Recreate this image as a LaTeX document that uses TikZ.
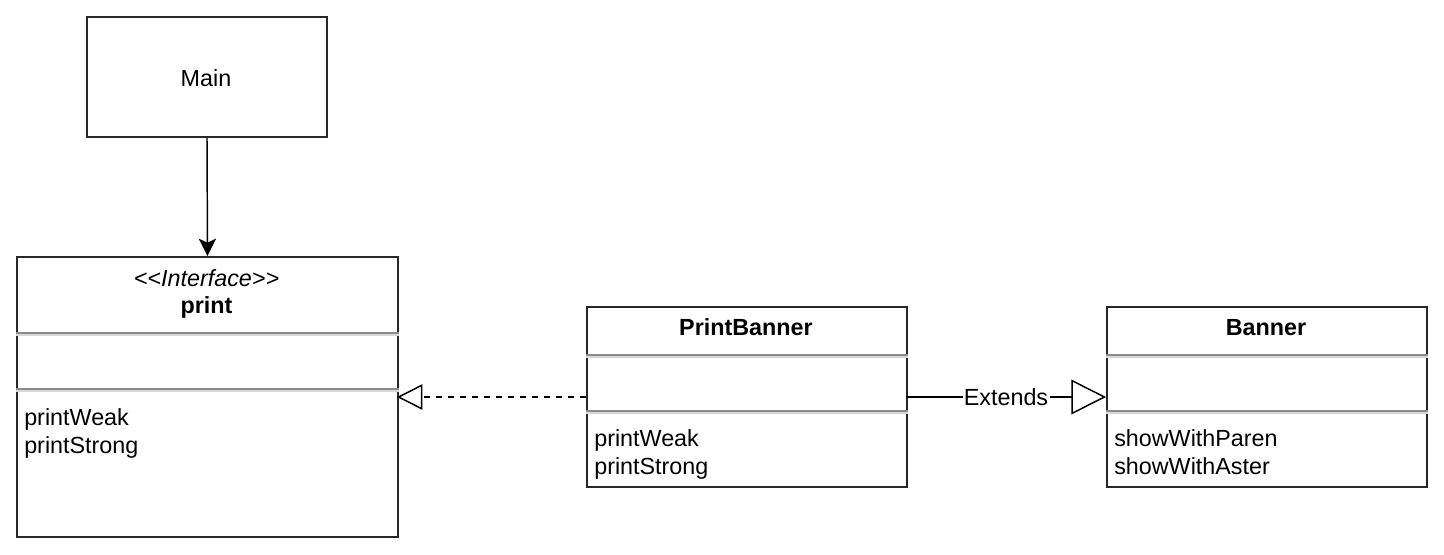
\documentclass[tikz,border=0pt]{standalone}
\usepackage{fontspec}
\setmainfont{Liberation Sans}
\usetikzlibrary{arrows.meta}
\definecolor{bd}{RGB}{40,40,40}
\definecolor{sep}{RGB}{140,140,140}
\definecolor{sepl}{RGB}{215,215,215}
\begin{document}
\begin{tikzpicture}[x=0.75pt,y=-0.75pt,
  box/.style={draw=bd,line width=1.5pt,fill=white,inner sep=0,anchor=north west,rectangle},
  txt/.style={inner sep=0,font=\fontsize{17.5}{21}\selectfont},
  ttl/.style={txt,anchor=base},
  meth/.style={txt,anchor=base west},
  sepline/.style={draw=sep,line width=1.2pt},
  seplight/.style={draw=sepl,line width=1pt},
  conn/.style={draw=black,line width=1.1pt}]
\useasboundingbox (0,0) rectangle (1444,554);
% boxes
\node[box,minimum width=240*0.75pt,minimum height=120*0.75pt] (main) at (86,16) {};
\node[ttl] (maint) at (206,86) {Main};
\node[box,minimum width=381*0.75pt,minimum height=280*0.75pt] (print) at (16,256) {};
\node[box,minimum width=320*0.75pt,minimum height=180*0.75pt] (pb) at (586,306) {};
\node[box,minimum width=320*0.75pt,minimum height=180*0.75pt] (banner) at (1106,306) {};
% separators
\foreach \xa/\xb/\y in {16/399/333, 16/399/389, 586/908/355, 586/908/411, 1106/1428/355, 1106/1428/411}{
  \draw[sepline] (\xa,\y) -- (\xb,\y);
  \draw[seplight] (\xa,\y+2) -- (\xb,\y+2);
}
% texts
\node[ttl] (pst) at (206.5,286) {\itshape {\textless}{\textless}Interface{\textgreater}{\textgreater}};
\node[ttl] (pname) at (206.5,313) {\bfseries print};
\node[meth] (pm1) at (24,425) {printWeak};
\node[meth] (pm2) at (24,453) {printStrong};
\node[ttl] (pbname) at (746,335) {\bfseries PrintBanner};
\node[meth] (pbm1) at (594,446) {printWeak};
\node[meth] (pbm2) at (594,474) {printStrong};
\node[ttl] (bname) at (1266,335) {\bfseries Banner};
\node[meth] (bm1) at (1114,446) {showWithParen};
\node[meth] (bm2) at (1114,474) {showWithAster};
% connectors
\coordinate (pR) at (397,397);
\coordinate (pbL) at (586,397);
\coordinate (pbR) at (906,397);
\coordinate (bL) at (1106,397);
\draw[conn,-{Stealth[length=13pt,width=13pt,inset=3pt]}] (main.south) -- (print.north);
\draw[conn,dash pattern=on 4.5pt off 4.5pt,-{Triangle[open,fill=white,length=19pt,width=19pt]}] (pbL) -- (pR);
\draw[conn,-{Triangle[open,fill=white,length=26pt,width=26pt]}] (pbR) -- node[txt,fill=white,inner sep=1pt] (ext) {Extends} (bL);
\end{tikzpicture}
\end{document}
